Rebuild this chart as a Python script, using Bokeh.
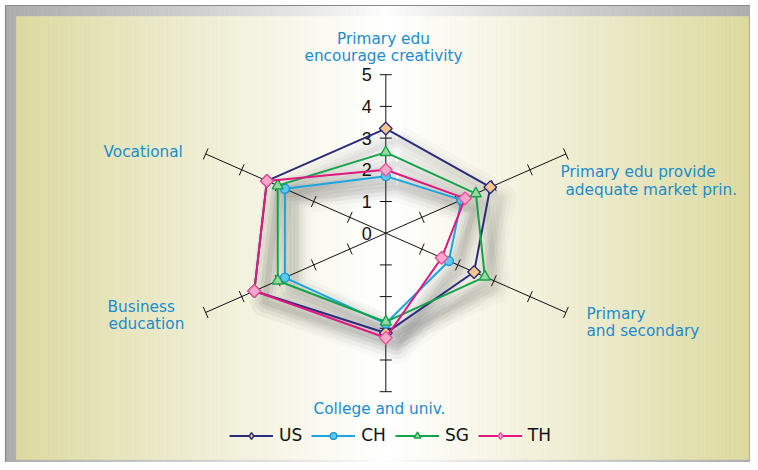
import numpy as np
from bokeh.plotting import figure
from bokeh.models import Legend, LegendItem
from bokeh.embed import file_html
from bokeh.resources import INLINE
from bokeh.core.properties import value

# ---------------- data ----------------
categories = ["Primary edu\nencourage creativity",
              "Primary edu provide\nadequate market prin.",
              "Primary\nand secondary",
              "College and univ.",
              "Business\neducation",
              "Vocational"]
tick_labels = ["0", "1", "2", "3", "4", "5"]
series_names = ["US", "CH", "SG", "TH"]
us = [3.3, 2.9, 2.45, 3.15, 3.65, 3.3]
ch = [1.8, 2.1, 1.75, 2.85, 2.8, 2.8]
sg = [2.55, 2.5, 2.75, 2.8, 3.0, 3.0]
th = [2.0, 2.2, 1.55, 3.3, 3.65, 3.3]
r_max = 5

# ---------------- layout ----------------
W, H = 750, 462
CX, CY = 385.3, 232.7       # radar centre, px from top-left
SX, SY = 41.6, 31.7         # px per unit (horizontal / vertical)

def fx(px):   # px -> data x
    return (np.asarray(px, dtype=float) - CX) / SX

def fy(py):   # px -> data y
    return (CY - np.asarray(py, dtype=float)) / SY

p = figure(width=W, height=H, output_backend="svg", toolbar_location=None,
           x_axis_type=None, y_axis_type=None,
           x_range=(float(fx(0)), float(fx(W))), y_range=(float(fy(H)), float(fy(0))),
           min_border=0, outline_line_color=None)
p.grid.visible = False
p.background_fill_color = "#ffffff"
p.border_fill_color = "#ffffff"

def mix(c1, c2, t):
    return "#%02x%02x%02x" % tuple(int(round(a + (b - a) * t)) for a, b in zip(c1, c2))

n = 160
# outer grey frame gradient
FL, FR, FT, FB = 5, W, 5, H
edges = np.linspace(FL, FR, n + 1)
cols = []
for i in range(n):
    xm = 0.5 * (edges[i] + edges[i + 1])
    d = abs(xm - CX) / ((CX - FL) if xm < CX else (755 - CX))
    cols.append(mix((255, 255, 255), (172, 172, 172), min(d, 1) ** 0.8))
p.quad(left=fx(edges[:-1]), right=fx(edges[1:]), top=float(fy(FT)), bottom=float(fy(FB)),
       fill_color=cols, line_color=cols, line_width=0.6)
p.quad(left=[float(fx(FL))], right=[float(fx(W + 3))], top=[float(fy(FT))], bottom=[float(fy(H + 5))],
       fill_color=None, line_color="#8a8a8a", line_width=1.2)

# inner khaki panel gradient
PL, PR, PT, PB = 16, 748, 16, 459
edges = np.linspace(PL, PR, n + 1)
cols = []
for i in range(n):
    xm = 0.5 * (edges[i] + edges[i + 1])
    d = abs(xm - CX) / ((CX - PL) if xm < CX else (PR - CX))
    cols.append(mix((255, 255, 255), (221, 218, 160), d ** 1.1))
p.quad(left=fx(edges[:-1]), right=fx(edges[1:]), top=float(fy(PT)), bottom=float(fy(PB)),
       fill_color=cols, line_color=cols, line_width=0.6)

# geometry of spokes
k = len(categories)
theta = np.deg2rad(90 - 360.0 / k * np.arange(k))
ct, st = np.cos(theta), np.sin(theta)

def poly(vals):
    v = np.array(list(vals) + list(vals[:1]), dtype=float)
    c = np.append(ct, ct[0]); s = np.append(st, st[0])
    return v * c, v * s

all_series = [us, ch, sg, th]

# soft drop shadow
ox, oy = 11 / SX, -11 / SY
for vals in all_series:
    xs, ys = poly(vals)
    for lw, a in [(30, 0.02), (21, 0.025), (13, 0.03), (6, 0.035)]:
        p.line(xs + ox, ys + oy, line_color="#000000", line_alpha=a, line_width=lw,
               line_join="round")

# spokes
p.segment(x0=np.zeros(k), y0=np.zeros(k), x1=r_max * ct, y1=r_max * st,
          line_color="#111111", line_width=1)
# tick marks
tx0, ty0, tx1, ty1 = [], [], [], []
L = 6.0
for c, s in zip(ct, st):
    dx, dy = c * SX, s * SY
    nrm = np.hypot(dx, dy)
    nx, ny = -dy / nrm, dx / nrm
    for r in range(1, r_max + 1):
        x, y = r * c, r * s
        tx0.append(x - nx * L / SX); ty0.append(y - ny * L / SY)
        tx1.append(x + nx * L / SX); ty1.append(y + ny * L / SY)
p.segment(x0=tx0, y0=ty0, x1=tx1, y1=ty1, line_color="#111111", line_width=1)

# tick labels on the top spoke
p.text(x=np.zeros(len(tick_labels)), y=np.arange(len(tick_labels)), text=tick_labels,
       x_offset=-14, text_align="right", text_baseline="middle",
       text_font=value("Liberation Sans"), text_font_size="18px", text_color="#111111")

# series
styles = [
    dict(color="#2b2d7c", marker="square", angle=np.pi / 4, size=9, fill="#f7c68a", mline="#2b2d7c", leg="diamond"),
    dict(color="#1ba5e0", marker="circle", angle=0, size=9, fill="#5cc8f2", mline="#1b98d6", leg=None),
    dict(color="#14a24b", marker="triangle", angle=0, size=11, fill="#98d8a0", mline="#14a24b", leg=None),
    dict(color="#e0187f", marker="square", angle=np.pi / 4, size=9, fill="#f4a8cc", mline="#e3559a", leg="diamond"),
]
items = []
for name, vals, sty in zip(series_names, all_series, styles):
    xs, ys = poly(vals)
    lr = p.line(xs, ys, line_color=sty["color"], line_width=2, line_join="round")
    rends = [lr]
    if sty["leg"]:
        # diamond swatch for the legend, hidden beneath the rotated squares
        lg = p.scatter(xs[:-1], ys[:-1], marker=sty["leg"], size=sty["size"],
                       fill_color=sty["fill"], line_color=sty["mline"], line_width=1.4)
        rends.append(lg)
    sr = p.scatter(xs[:-1], ys[:-1], marker=sty["marker"], angle=sty["angle"], size=sty["size"],
                   fill_color=sty["fill"], line_color=sty["mline"], line_width=1.4)
    if not sty["leg"]:
        rends.append(sr)
    items.append(LegendItem(label=name, renderers=rends))

# category labels (px anchors, per line)
label_layout = [
    [(383, 38, "center"), (383, 55, "center")],
    [(560, 171.7, "left"), (565, 189.3, "left")],
    [(586, 313.3, "left"), (586, 330.5, "left")],
    [(379, 408, "center")],
    [(107, 306, "left"), (108, 323.5, "left")],
    [(103, 151.7, "left")],
]
for cat, anchors in zip(categories, label_layout):
    for line_txt, (px, py, al) in zip(cat.split("\n"), anchors):
        p.text(x=[float(fx(px))], y=[float(fy(py))], text=[line_txt], text_align=al,
               text_baseline="middle", text_font=value("DejaVu Sans"),
               text_font_size="15.3px", text_color="#1e8bcd")

legend = Legend(items=items, orientation="horizontal", location=(229, 17),
                glyph_width=44, glyph_height=17, label_standoff=6, spacing=9,
                label_height=17,
                padding=0, margin=0, background_fill_alpha=0, border_line_color=None,
                label_text_font="DejaVu Sans", label_text_font_size="17px",
                label_text_color="#111111")
p.add_layout(legend)

open("out.html", "w").write(file_html(p, INLINE))
